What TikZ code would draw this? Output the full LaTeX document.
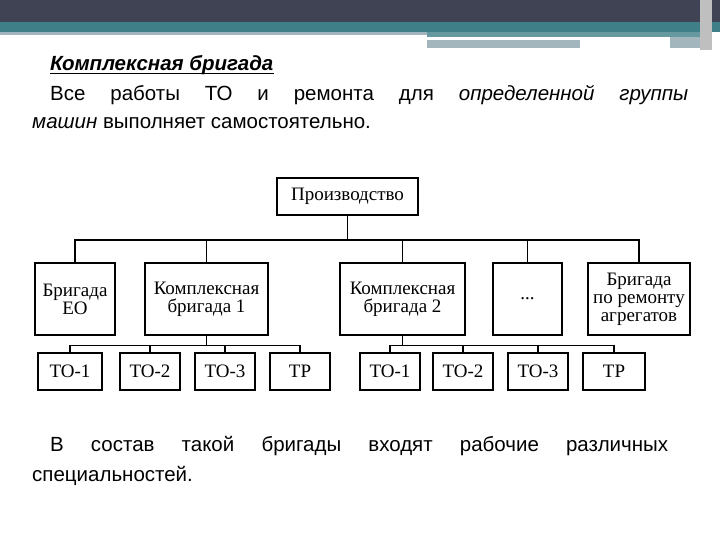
\documentclass[tikz,border=0pt]{standalone}
\usepackage{fontspec}
\setmainfont{Liberation Sans}
\newfontfamily\dfont{Liberation Serif}
\definecolor{hdark}{HTML}{404354}
\definecolor{hteal}{HTML}{3F7F87}
\definecolor{hlight}{HTML}{A3B6BD}
\begin{document}
\begin{tikzpicture}[x=1pt,y=-1pt,
  bx/.style={draw,line width=1.4pt,inner sep=0pt,align=center,font=\dfont\fontsize{19}{18}\selectfont},
  ln/.style={line width=1.2pt},
  tx/.style={anchor=base west,font=\fontsize{20.5}{22}\selectfont,inner sep=0pt}]
\useasboundingbox (0,0) rectangle (720,540);
% header
\fill[hdark] (0,0) rectangle (720,22);
\fill[hteal] (0,22) rectangle (720,32);
\fill[hlight] (0,32) rectangle (427,35);
\fill[hteal!80!white] (427,32) rectangle (700,37);
\fill[hlight] (427,40) rectangle (580,48);
\fill[hlight] (670,37) rectangle (700,48);
\fill[gray!50] (700,0) rectangle (712,50);
% texts
\node[tx] (t0) at (50,71) {\textit{\textbf{Комплексная бригада}}};
\draw[line width=1pt] (t0.base west) ++(0,3) -- ([yshift=-3pt]t0.base east);
\node[tx] (t1) at (50,101) {\makebox[638pt][s]{Все работы ТО и ремонта для \textit{определенной группы}}};
\node[tx] (t2) at (32,129) {\textit{машин} выполняет самостоятельно.};
\node[tx] (t3) at (50,451) {\makebox[618pt][s]{В состав такой бригады входят рабочие различных}};
\node[tx] (t4) at (32,481) {специальностей.};
% boxes
\node[bx,minimum width=141pt,minimum height=37pt] (p) at (347.5,196.5) {Производство};
\node[bx,minimum width=80pt,minimum height=72pt] (eo) at (75,299) {Бригада\\ЕО};
\node[bx,minimum width=123pt,minimum height=72pt] (k1) at (206.5,299) {Комплексная\\бригада 1};
\node[bx,minimum width=125pt,minimum height=72pt] (k2) at (402.5,299) {Комплексная\\бригада 2};
\node[bx,minimum width=69pt,minimum height=72pt] (dd) at (527.5,299) {...};
\node[bx,minimum width=102pt,minimum height=72pt] (ra) at (639,299) {Бригада\\по ремонту\\агрегатов};
\foreach \n/\c/\w/\t in {a1/70/64/ТО-1,a2/150/60/ТО-2,a3/225/60/ТО-3,a4/300/60/ТР,b1/390/60/ТО-1,b2/463/60/ТО-2,b3/538/60/ТО-3,b4/614/62/ТР}
  \node[bx,minimum width=\w pt,minimum height=37pt] (\n) at (\c,371.5) {\t};
% connectors
\coordinate (bus) at (347.5,240);
\draw[ln] (p.south) -- (bus);
\draw[ln] (eo.north) |- (bus) -| (ra.north);
\foreach \n in {k1,k2,dd} \draw[ln] (\n.north) -- (\n.north |- bus);
\draw[ln] (k1.south) -- ++(0,10) coordinate (ka);
\draw[ln] (a1.north) |- (ka) -| (a4.north);
\foreach \n in {a2,a3} \draw[ln] (\n.north) -- (\n.north |- ka);
\draw[ln] (k2.south) -- ++(0,10) coordinate (kb);
\draw[ln] (b1.north) |- (kb) -| (b4.north);
\foreach \n in {b2,b3} \draw[ln] (\n.north) -- (\n.north |- kb);
\end{tikzpicture}
\end{document}
